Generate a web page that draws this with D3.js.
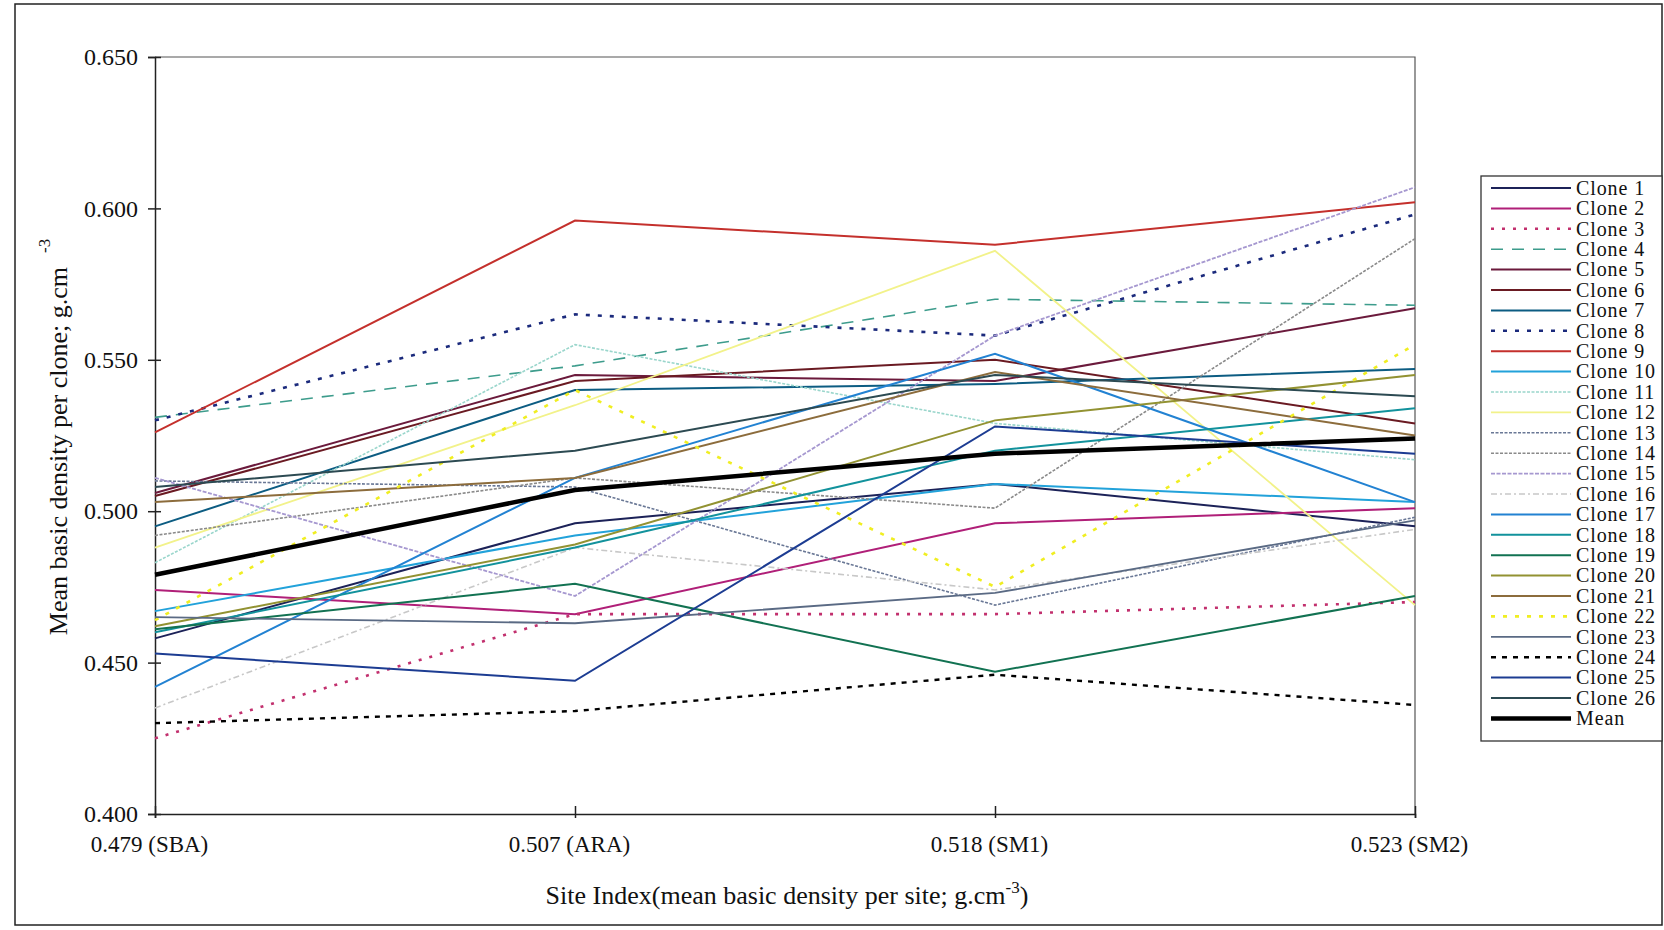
<!DOCTYPE html>
<head>
    <meta charset="utf-8">
    <script src="https://cdn.jsdelivr.net/npm/d3@7"></script>
    <style>
        body { margin: 0; background: #fff; }
        text { font-family: "Liberation Serif", "Times New Roman", serif; fill: #111; }
    </style>
</head>
<body>
    <div id="chart"></div>
    <script>
        const width = 1664, height = 930;

        // sites (x categories) and y ticks
        const sites = ["0.479 (SBA)", "0.507 (ARA)", "0.518 (SM1)", "0.523 (SM2)"];
        const yTicks = [0.400, 0.450, 0.500, 0.550, 0.600, 0.650];

        // series (SBA, ARA, SM1, SM2)
        const seriesNames = ["Clone 1", "Clone 2", "Clone 3", "Clone 4", "Clone 5", "Clone 6", "Clone 7",
            "Clone 8", "Clone 9", "Clone 10", "Clone 11", "Clone 12", "Clone 13", "Clone 14", "Clone 15",
            "Clone 16", "Clone 17", "Clone 18", "Clone 19", "Clone 20", "Clone 21", "Clone 22", "Clone 23",
            "Clone 24", "Clone 25", "Clone 26", "Mean"];
        const seriesValues = [
            [0.458, 0.496, 0.509, 0.495],   // 1
            [0.474, 0.466, 0.496, 0.501],   // 2
            [0.425, 0.466, 0.466, 0.470],   // 3
            [0.531, 0.548, 0.570, 0.568],   // 4
            [0.506, 0.545, 0.543, 0.567],   // 5
            [0.505, 0.543, 0.550, 0.529],   // 6
            [0.495, 0.540, 0.542, 0.547],   // 7
            [0.530, 0.565, 0.558, 0.598],   // 8
            [0.526, 0.596, 0.588, 0.602],   // 9
            [0.467, 0.492, 0.509, 0.503],   // 10
            [0.483, 0.555, 0.529, 0.517],   // 11
            [0.488, 0.535, 0.586, 0.469],   // 12
            [0.510, 0.508, 0.469, 0.498],   // 13
            [0.492, 0.511, 0.501, 0.590],   // 14
            [0.511, 0.472, 0.558, 0.607],   // 15
            [0.435, 0.488, 0.474, 0.494],   // 16
            [0.442, 0.511, 0.552, 0.503],   // 17
            [0.460, 0.488, 0.520, 0.534],   // 18
            [0.461, 0.476, 0.447, 0.472],   // 19
            [0.462, 0.489, 0.530, 0.545],   // 20
            [0.503, 0.511, 0.546, 0.525],   // 21
            [0.464, 0.540, 0.475, 0.555],   // 22
            [0.465, 0.463, 0.473, 0.497],   // 23
            [0.430, 0.434, 0.446, 0.436],   // 24
            [0.453, 0.444, 0.528, 0.519],   // 25
            [0.508, 0.520, 0.545, 0.538],   // 26
            [0.479, 0.507, 0.519, 0.524]    // Mean
        ];

        // line styles, same order as the series
        const seriesColors = ["#1c2258", "#b01f78", "#c2306e", "#3d9c8c", "#6b1a3c", "#6a1a22", "#0c5c82",
            "#1b2a7c", "#c4302c", "#22a2da", "#9ad6cc", "#f2f28a", "#6a7896", "#8a8a8a", "#a698d0",
            "#c8c8c8", "#2282d2", "#12929c", "#127252", "#929232", "#8c6c3c", "#f0ee22", "#5a6a84",
            "#000000", "#1c3c92", "#2c4a52", "#000000"];
        const seriesDash = [null, null, "3,8", "12,9", null, null, null,
            "4,8", null, null, "3,1.5", null, "3,1.5", "3,1.5", "4,1.5",
            "6,3,2,3", null, null, null, null, null, "4,8", null,
            "5,6", null, null, null];
        const seriesWidth = [2, 2, 2.6, 1.6, 2, 2, 2, 2.6, 2, 2, 1.6, 1.8, 1.6, 1.6, 1.8,
            1.6, 2, 2, 2, 2, 2, 2.6, 1.8, 2.4, 2, 2, 4.5];

        const svg = d3.select("#chart").append("svg")
            .attr("width", width)
            .attr("height", height);

        // outer frame
        svg.append("rect")
            .attr("x", 15).attr("y", 4)
            .attr("width", 1647).attr("height", 921)
            .attr("fill", "none").attr("stroke", "#222").attr("stroke-width", 1.5);

        const plot = { left: 155, right: 1415, top: 57, bottom: 814 };

        const x = d3.scalePoint()
            .domain(sites)
            .range([plot.left, plot.right]);

        const y = d3.scaleLinear()
            .domain([0.4, 0.65])
            .range([plot.bottom, plot.top]);

        // plot area border (top and right)
        svg.append("path")
            .attr("d", `M${plot.left},${plot.top}H${plot.right}V${plot.bottom}`)
            .attr("fill", "none").attr("stroke", "#555").attr("stroke-width", 1.2);

        // y axis
        const yAxis = svg.append("g")
            .attr("transform", `translate(${plot.left},0)`)
            .call(d3.axisLeft(y).tickValues(yTicks).tickFormat(d3.format(".3f")).tickSize(7).tickPadding(10));
        yAxis.selectAll(".tick line").attr("x2", -7).attr("x1", 6);
        yAxis.selectAll("text").style("font-size", "24px").style("font-family", "Liberation Serif");
        yAxis.selectAll("line, path").attr("stroke", "#222").attr("stroke-width", 1.5);

        // x axis
        const xAxis = svg.append("g")
            .attr("transform", `translate(0,${plot.bottom})`)
            .call(d3.axisBottom(x).tickSizeOuter(0).tickSize(4).tickPadding(18));
        xAxis.selectAll(".tick line").attr("y1", -8).attr("y2", 4);
        xAxis.selectAll("text").style("font-size", "23px").style("font-family", "Liberation Serif")
            .attr("dx", -6);
        xAxis.selectAll("line, path").attr("stroke", "#222").attr("stroke-width", 1.5);

        // lines
        const line = d3.line()
            .x((d, i) => x(sites[i]))
            .y(d => y(d));

        svg.append("g")
            .selectAll("path")
            .data(seriesValues)
            .join("path")
            .attr("d", line)
            .attr("fill", "none")
            .attr("stroke", (d, i) => seriesColors[i])
            .attr("stroke-width", (d, i) => seriesWidth[i])
            .attr("stroke-dasharray", (d, i) => seriesDash[i]);

        // axis titles
        const xTitle = svg.append("text")
            .attr("x", 787).attr("y", 904)
            .attr("text-anchor", "middle")
            .style("font-size", "26px");
        xTitle.append("tspan").text("Site Index(mean basic density per site; g.cm");
        xTitle.append("tspan").attr("dy", -11).style("font-size", "17px").text("-3");
        xTitle.append("tspan").attr("dy", 11).text(")");

        const yTitle = svg.append("text")
            .attr("transform", "translate(67,437) rotate(-90)")
            .attr("text-anchor", "middle")
            .style("font-size", "26px");
        yTitle.append("tspan").text("Mean basic density per clone; g.cm");
        yTitle.append("tspan").attr("dy", -17).attr("dx", 14).style("font-size", "17px").text("-3");

        // legend
        const legend = svg.append("g").attr("transform", "translate(1481,176)");
        legend.append("rect")
            .attr("width", 181).attr("height", 565)
            .attr("fill", "#fff").attr("stroke", "#333").attr("stroke-width", 1.3);

        const items = legend.selectAll("g.item")
            .data(seriesNames)
            .join("g")
            .attr("class", "item")
            .attr("transform", (d, i) => `translate(0,${12 + i * 20.4})`);

        items.append("line")
            .attr("x1", 10).attr("x2", 90)
            .attr("stroke", (d, i) => seriesColors[i])
            .attr("stroke-width", (d, i) => seriesWidth[i])
            .attr("stroke-dasharray", (d, i) => seriesDash[i]);

        items.append("text")
            .attr("x", 95).attr("dy", "0.34em")
            .style("font-size", "20px")
            .style("letter-spacing", "0.9px")
            .text(d => d);
    </script>
</body>
